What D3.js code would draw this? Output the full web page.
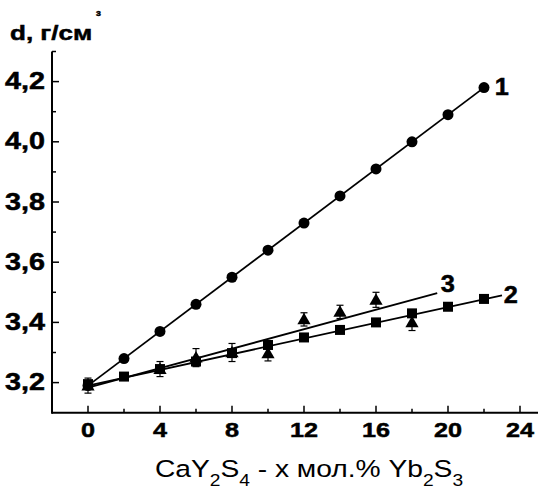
<!DOCTYPE html>
<html>
<head>
<meta charset="utf-8">
<script src="https://cdn.jsdelivr.net/npm/d3@7"></script>
<style>
  body { margin: 0; background: #fff; }
  text { font-family: "Liberation Sans", Arial, sans-serif; fill: #000; }
  text.b { stroke: #000; stroke-width: 0.5px; }
</style>
</head>
<body>
<div id="chart"></div>
<script>
// composition, mol.% Yb2S3
var xs1 = [0, 2, 4, 6, 8, 10, 12, 14, 16, 18, 20, 22];
var dens1 = [3.19, 3.28, 3.37, 3.46, 3.55, 3.64, 3.73, 3.82, 3.91, 4.00, 4.09, 4.18];

var xs2 = [0, 2, 4, 6, 8, 10, 12, 14, 16, 18, 20, 22];
var dens2 = [3.195, 3.22, 3.245, 3.27, 3.298, 3.325, 3.35, 3.375, 3.40, 3.43, 3.452, 3.478];

var xs3 = [0, 4, 6, 8, 10, 12, 14, 16, 18];
var dens3 = [3.19, 3.245, 3.283, 3.30, 3.297, 3.41, 3.435, 3.475, 3.40];
var err3 = [0.025, 0.025, 0.03, 0.03, 0.025, 0.022, 0.022, 0.025, 0.027];

// fitted lines (end points)
var fit1 = [[0, 3.19], [22, 4.18]];
var fit2 = [[0, 3.19], [23, 3.49]];
var fit3 = [[0, 3.183], [19.4, 3.497]];

var xTicks = [0, 4, 8, 12, 16, 20, 24];
var xMinor = [2, 6, 10, 14, 18, 22];
var yTicks = [3.2, 3.4, 3.6, 3.8, 4.0, 4.2];
var yMinor = [3.3, 3.5, 3.7, 3.9, 4.1];
var seriesLabels = ["1", "2", "3"];

var width = 538, height = 493;
var stretch = 1.2;

var svg = d3.select("#chart").append("svg")
    .attr("width", width)
    .attr("height", height);

var x = d3.scaleLinear().domain([-2, 25]).range([52, 538]);
var y = d3.scaleLinear().domain([3.1, 4.3]).range([412.7, 51.5]);

function fmt(v) { return v.toFixed(1).replace(".", ","); }

// stretched text helper
function label(g, tx, ty, str, size, weight, anchor, sx) {
    return g.append("text")
        .attr("class", weight == "bold" ? "b" : null)
        .attr("transform", "translate(" + tx + "," + ty + ") scale(" + (sx || stretch) + ",1)")
        .style("font-size", size + "px")
        .style("font-weight", weight)
        .style("text-anchor", anchor)
        .text(str);
}

// axes
var axes = svg.append("g").attr("stroke", "#000").attr("fill", "none");
axes.append("line")
    .attr("x1", x.range()[0]).attr("x2", x.range()[0])
    .attr("y1", y.range()[0] + 1).attr("y2", y.range()[1])
    .attr("stroke-width", 2);
axes.append("line")
    .attr("x1", x.range()[0]).attr("x2", x.range()[1])
    .attr("y1", y.range()[0]).attr("y2", y.range()[0])
    .attr("stroke-width", 2);

axes.selectAll(".xt").data(xTicks).enter().append("line")
    .attr("x1", function(d) { return x(d); }).attr("x2", function(d) { return x(d); })
    .attr("y1", y.range()[0]).attr("y2", y.range()[0] - 7)
    .attr("stroke-width", 1.5);
axes.selectAll(".xm").data(xMinor).enter().append("line")
    .attr("x1", function(d) { return x(d); }).attr("x2", function(d) { return x(d); })
    .attr("y1", y.range()[0]).attr("y2", y.range()[0] - 4)
    .attr("stroke-width", 1.5);
axes.selectAll(".yt").data(yTicks).enter().append("line")
    .attr("y1", function(d) { return y(d); }).attr("y2", function(d) { return y(d); })
    .attr("x1", x.range()[0]).attr("x2", x.range()[0] + 7)
    .attr("stroke-width", 1.5);
axes.selectAll(".ym").data(yMinor.concat([4.3])).enter().append("line")
    .attr("y1", function(d) { return y(d); }).attr("y2", function(d) { return y(d); })
    .attr("x1", x.range()[0]).attr("x2", x.range()[0] + 4)
    .attr("stroke-width", 1.5);

var txt = svg.append("g");
xTicks.forEach(function(d) {
    label(txt, x(d), 437, String(d), 21, "bold", "middle");
});
yTicks.forEach(function(d) {
    label(txt, 45, y(d) + 7.5, fmt(d), 23, "bold", "end", 1.25);
});

// y title
label(txt, 10, 40, "d, г/см", 21, "bold", "start", 1.24);
label(txt, 96, 16, "3", 8, "bold", "start", 1.1);

// x title with subscripts
var xt = txt.append("text")
    .attr("transform", "translate(309,477) scale(1.2,1)")
    .style("font-size", "23.5px")
    .style("text-anchor", "middle");
var parts = [["CaY", 0], ["2", 1], ["S", 0], ["4", 1], [" - x мол.% Yb", 0], ["2", 1], ["S", 0], ["3", 1]];
var cur = 0;
parts.forEach(function(p) {
    var shift = p[1] ? 9 : 0;
    xt.append("tspan")
        .attr("dy", shift - cur)
        .style("font-size", p[1] ? "16px" : "23.5px")
        .text(p[0]);
    cur = shift;
});

// fit lines
var line = d3.line()
    .x(function(d) { return x(d[0]); })
    .y(function(d) { return y(d[1]); });
[fit1, fit2, fit3].forEach(function(f) {
    svg.append("path")
        .datum(f)
        .attr("d", line)
        .attr("fill", "none")
        .attr("stroke", "#000")
        .attr("stroke-width", 1.8);
});

// series 3: triangles with error bars
var data3 = xs3.map(function(v, i) { return { x: v, y: dens3[i], e: err3[i] }; });
var eb = svg.append("g").attr("stroke", "#000").attr("stroke-width", 1.2);
data3.forEach(function(d) {
    var cx = x(d.x), top = y(d.y + d.e), bot = y(d.y - d.e);
    eb.append("line").attr("x1", cx).attr("x2", cx).attr("y1", top).attr("y2", bot);
    eb.append("line").attr("x1", cx - 3.5).attr("x2", cx + 3.5).attr("y1", top).attr("y2", top);
    eb.append("line").attr("x1", cx - 3.5).attr("x2", cx + 3.5).attr("y1", bot).attr("y2", bot);
});
svg.selectAll(".tri")
    .data(data3)
    .enter().append("path")
    .attr("class", "tri")
    .attr("d", d3.symbol().type(d3.symbolTriangle).size(76))
    .attr("transform", function(d) { return "translate(" + x(d.x) + "," + (y(d.y) + 1) + ")"; })
    .attr("fill", "#000");

// series 2: squares
svg.selectAll(".sq")
    .data(xs2.map(function(v, i) { return [v, dens2[i]]; }))
    .enter().append("rect")
    .attr("class", "sq")
    .attr("x", function(d) { return x(d[0]) - 5; })
    .attr("y", function(d) { return y(d[1]) - 5; })
    .attr("width", 10).attr("height", 10)
    .attr("fill", "#000");

// series 1: circles
svg.selectAll(".dot")
    .data(xs1.map(function(v, i) { return [v, dens1[i]]; }))
    .enter().append("circle")
    .attr("class", "dot")
    .attr("cx", function(d) { return x(d[0]); })
    .attr("cy", function(d) { return y(d[1]); })
    .attr("r", 5.5)
    .attr("fill", "#000");

// curve numbers
var lblPos = [[22.6, 4.155], [23.1, 3.465], [19.6, 3.5]];
seriesLabels.forEach(function(s, i) {
    label(txt, x(lblPos[i][0]), y(lblPos[i][1]), s, 23, "bold", "start", 1.1);
});
</script>
</body>
</html>
